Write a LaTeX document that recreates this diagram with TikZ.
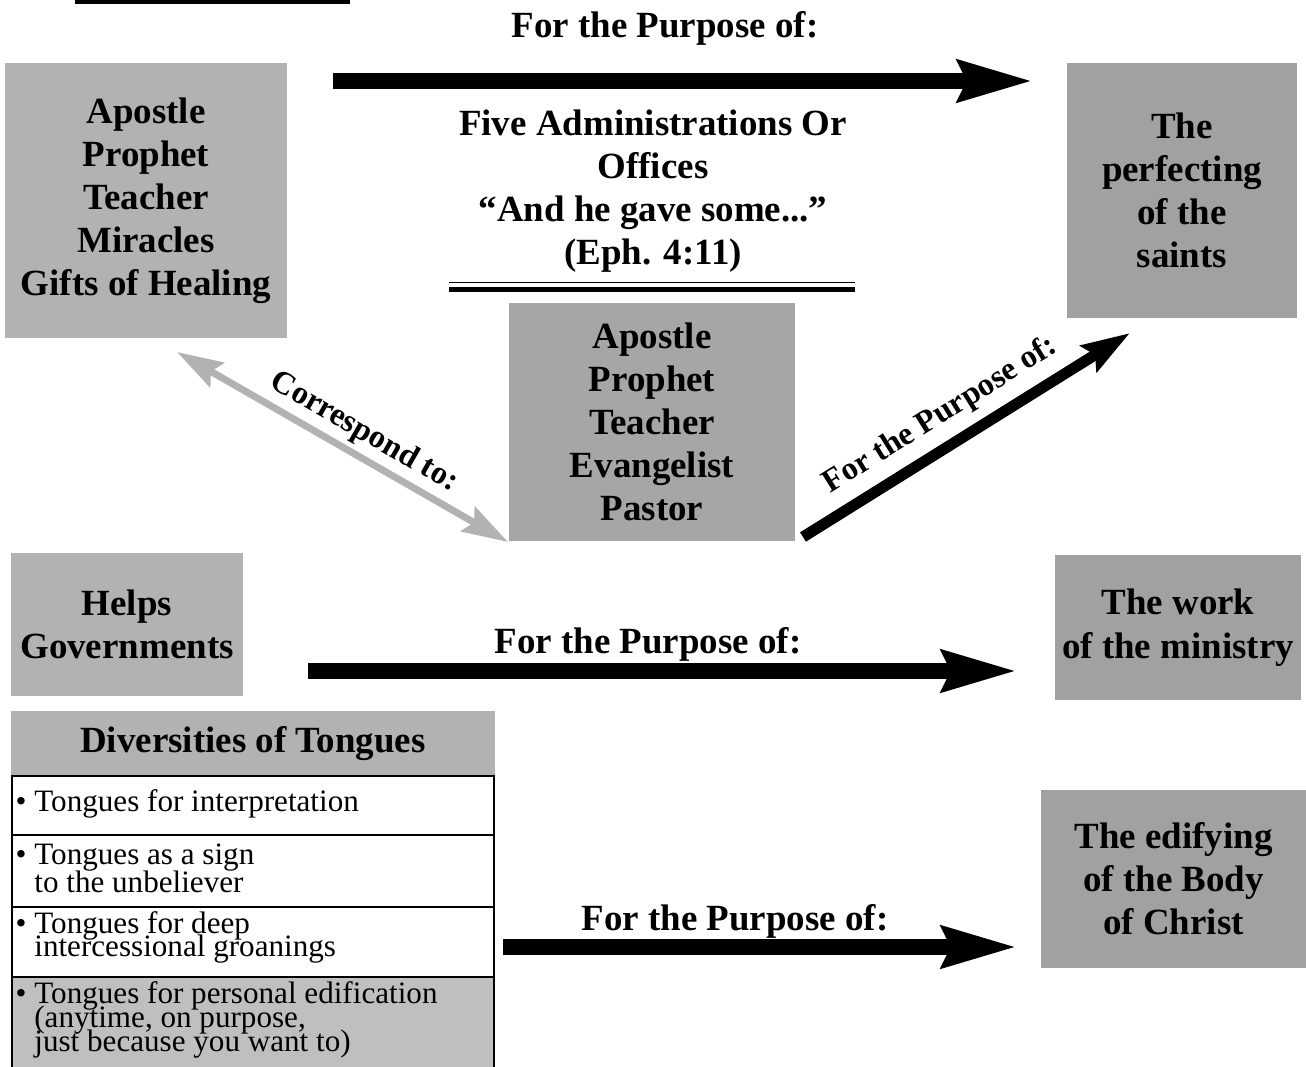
\documentclass[tikz,border=0pt]{standalone}
\usepackage{fontspec}
\setmainfont{Liberation Serif}
\usetikzlibrary{arrows.meta}
\definecolor{boxlight}{gray}{0.70}
\definecolor{boxmid}{gray}{0.65}
\definecolor{boxdark}{gray}{0.63}
\definecolor{rowgray}{gray}{0.75}
\setlength{\lineskiplimit}{-20pt}
\tikzset{
	heading/.style={align=center, inner sep=0pt, font=\bfseries\fontsize{10.5}{12.2}\selectfont},
	gbox/.style={heading, fill=#1},
	purpose/.style={inner sep=0pt, font=\bfseries\fontsize{10.5}{12.2}\selectfont},
	slantlabel/.style={inner sep=0pt, font=\bfseries\fontsize{9.2}{11}\selectfont},
	tongue/.style={anchor=west, align=left, inner sep=0pt, font=\fontsize{8.85}{#1}\selectfont},
	bigarrow/.style={line width=0.16cm, -{Stealth[length=0.74cm, width=0.40cm, inset=0.08cm]}},
	tiltarrow/.style={line width=0.11cm, -{Stealth[length=0.48cm, width=0.30cm, inset=0.07cm]}},
	greyarrow/.style={line width=0.07cm, color=boxlight, {Stealth[length=0.46cm, width=0.28cm, inset=0.07cm]}-{Stealth[length=0.46cm, width=0.28cm, inset=0.07cm]}}
}
\begin{document}
\begin{tikzpicture}[x=0.01cm, y=-0.01cm]
			%%%%% START %%%%%
			\useasboundingbox (0,0) rectangle (1306,1067);
			
			\fill (75,0) rectangle (350,4);
			
			% gifts and offices
			\node[gbox=boxlight, minimum width=2.82cm, minimum height=2.75cm] (gifts) at (146,200.5) {Apostle\\Prophet\\Teacher\\Miracles\\Gifts of Healing};
			\node[gbox=boxdark, minimum width=2.30cm, minimum height=2.55cm] (saints) at (1182,190.5) {The\\perfecting\\of the\\saints};
			\node[heading] (offices) at (653,191) {Five Administrations Or\\Offices\\“And he gave some...”\\(Eph. 4:11)};
			\draw[line width=0.012cm] (449,282.5) -- (855,282.5);
			\draw[line width=0.055cm] (449,289.5) -- (855,289.5);
			\node[gbox=boxmid, minimum width=2.86cm, minimum height=2.38cm] (fivefold) at (652,422) {Apostle\\Prophet\\Teacher\\Evangelist\\Pastor};
			
			\node[gbox=boxlight, minimum width=2.32cm, minimum height=1.43cm] (helps) at (127,624.5) {Helps\\Governments};
			\node[gbox=boxdark, minimum width=2.46cm, minimum height=1.45cm, font=\bfseries\fontsize{10.5}{12.5}\selectfont] (ministry) at (1178,627.5) {The work\\of the ministry};
			\node[gbox=boxdark, minimum width=2.65cm, minimum height=1.78cm] (edify) at (1173.5,879) {The edifying\\of the Body\\of Christ};
			
			% tongues table
			\node[gbox=boxlight, minimum width=4.84cm, minimum height=0.65cm] (tongues) at (253,743.5) {Diversities of Tongues};
			\draw[line width=0.02cm, fill=white] (12,776) rectangle (494,835);
			\draw[line width=0.02cm, fill=white] (12,835) rectangle (494,907);
			\draw[line width=0.02cm, fill=white] (12,907) rectangle (494,977);
			\draw[line width=0.02cm, fill=rowgray] (12,977) rectangle (494,1080);
			\node[tongue=8] (interp) at (15,804) {• Tongues for interpretation};
			\node[tongue=8] (sign) at (15,868) {• Tongues as a sign\\\hphantom{• }to the unbeliever};
			\node[tongue=6.5] (groan) at (15,937) {• Tongues for deep\\\hphantom{• }intercessional groanings};
			\node[tongue=6.8] (edification) at (15,1020) {• Tongues for personal edification\\\hphantom{• }(anytime, on purpose,\\\hphantom{• }just because you want to)};
			
			% arrows
			\coordinate (topfrom) at (333,81);
			\coordinate (topto) at (1033,81);
			\draw[bigarrow] (topfrom) -- (topto);
			\node[purpose] (toplabel) at (665,28) {For the Purpose of:};
			
			\coordinate (midfrom) at (308,671);
			\coordinate (midto) at (1017,671);
			\draw[bigarrow] (midfrom) -- (midto);
			\node[purpose] (midlabel) at (648,644) {For the Purpose of:};
			
			\coordinate (lowfrom) at (503,947);
			\coordinate (lowto) at (1017,947);
			\draw[bigarrow] (lowfrom) -- (lowto);
			\node[purpose] (lowlabel) at (735,921) {For the Purpose of:};
			
			\coordinate (corrfrom) at (177,352);
			\coordinate (corrto) at (508,542);
			\draw[greyarrow] (corrfrom) -- node[slantlabel, sloped, above=0.05cm, pos=0.53, text=black] (corrlabel) {Correspond to:} (corrto);
			
			\coordinate (tiltfrom) at (803,537);
			\coordinate (tiltto) at (1130,333);
			\draw[tiltarrow] (tiltfrom) -- node[slantlabel, sloped, above=0.10cm, pos=0.47] (tiltlabel) {For the Purpose of:} (tiltto);
			%%%%% END %%%%%
\end{tikzpicture}
\end{document}
